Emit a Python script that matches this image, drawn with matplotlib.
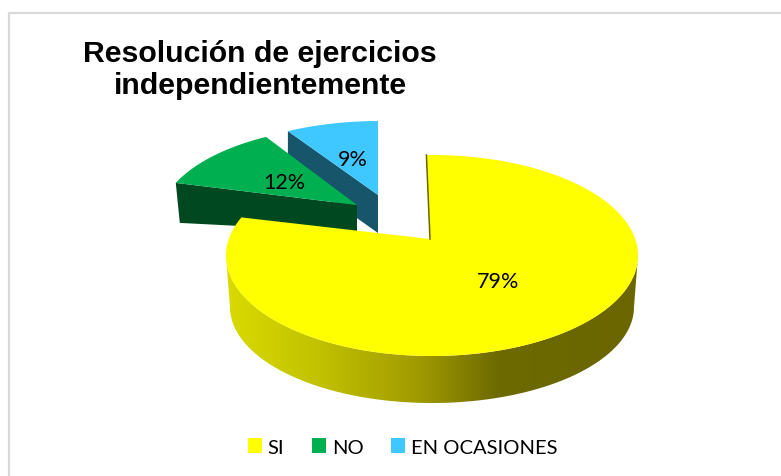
import numpy as np
import matplotlib
matplotlib.use("Agg")
import matplotlib.pyplot as plt
from matplotlib.patches import Patch, Polygon
from matplotlib.colors import LinearSegmentedColormap

# datos
categorias = ["SI", "NO", "EN OCASIONES"]
valores = [79, 12, 9]
titulo = "Resolución de ejercicios\nindependientemente"

colores = ["#FFFF00", "#00B050", "#3FC8FF"]
colores_pared = ["#6B6600", "#004820", "#17556B"]

# geometria de cada sector en pixeles: vertice, centro de elipse, radios, alto
vertices = [(430, 240), (357, 206), (378, 196)]
centros = [(432, 256.5), (359, 222), (380, 212)]
radios = [(206, 100.5), (200, 95), (200, 90)]
altos = [46, 27, 38]
giros = [-1.2, 0, 0]
pos_etiquetas = [(498, 282), (284, 183), (353, 160)]


def borde(i, theta):
    # corta el rayo desde el vertice con la elipse de la cara superior
    vx, vy = vertices[i]
    cx, cy = centros[i]
    rx, ry = radios[i]
    t = np.radians(theta + giros[i])
    dx, dy = rx * np.sin(t), -ry * np.cos(t)
    ox, oy = (vx - cx) / rx, (vy - cy) / ry
    a = (dx / rx) ** 2 + (dy / ry) ** 2
    b = 2 * (ox * dx / rx + oy * dy / ry)
    c = ox**2 + oy**2 - 1
    s = (-b + np.sqrt(b**2 - 4 * a * c)) / (2 * a)
    return vx + s * dx, vy + s * dy


def sector(i, t0, t1):
    th = np.linspace(t0, t1, 200)
    xs, ys = borde(i, th)
    return np.column_stack([np.r_[vertices[i][0], xs], np.r_[vertices[i][1], ys]])


fig = plt.figure(figsize=(7.81, 4.77), dpi=100)
ax = fig.add_axes([0, 0, 1, 1])
ax.set_xlim(0, 781)
ax.set_ylim(477, 0)
ax.axis("off")

# marco gris
ax.plot([8.5, 8.5, 781], [477, 13.5, 13.5], color="#D9D9D9", lw=1.6)

# angulos a partir de los valores, sentido horario desde arriba
fin = np.cumsum(valores) / np.sum(valores) * 360
ini = np.r_[0, fin[:-1]]

# sector azul
cara = sector(2, ini[2], fin[2])
pared = np.array([cara[1], cara[0], cara[0] + [0, altos[2]], cara[1] + [0, altos[2]]])
ax.add_patch(Polygon(pared, fc=colores_pared[2], ec="none", zorder=2))
ax.add_patch(Polygon(cara, fc=colores[2], ec="none", zorder=3))

# sector verde
cara = sector(1, ini[1], fin[1])
pared = np.array([cara[1], cara[0], cara[0] + [0, altos[1]], cara[1] + [4, 40]])
ax.add_patch(Polygon(pared, fc=colores_pared[1], ec="none", zorder=4))
ax.add_patch(Polygon(cara, fc=colores[1], ec="none", zorder=5))

# pared del sector amarillo con degradado
cx, cy = centros[0]
rx, ry = radios[0]
t = np.radians(np.linspace(90, 270, 200))
sup = np.column_stack([cx + rx * np.sin(t), cy - ry * np.cos(t)])
inf = np.column_stack([cx + (rx - 4) * np.sin(t), cy + 51.5 - (ry - 4.5) * np.cos(t)])
contorno = np.vstack([sup, inf[::-1]])
cmap = LinearSegmentedColormap.from_list(
    "pared",
    [(0, "#DADA00"), (0.22, "#C2C200"), (0.47, "#A09A00"), (0.66, "#6D6A00"), (1, "#6B6600")],
)
grad = np.linspace(0, 1, 256).reshape(1, -1)
im = ax.imshow(grad, extent=(cx - rx, cx + rx, 410, 250), cmap=cmap, aspect="auto", zorder=6)
im.set_clip_path(Polygon(contorno, transform=ax.transData))
ax.set_xlim(0, 781)
ax.set_ylim(477, 0)

# cara amarilla
cara = sector(0, ini[0], fin[0])
ax.add_patch(Polygon(cara, fc=colores[0], ec="none", zorder=7))
ax.plot(cara[:2, 0], cara[:2, 1], color=colores_pared[0], lw=1.1, zorder=8)

# etiquetas
for v, (x, y) in zip(valores, pos_etiquetas):
    ax.text(x, y, f"{v}%", ha="center", va="center", fontsize=15.5, family="Lato", color="black", zorder=9)

ax.text(260, 70, titulo, ha="center", va="center", fontsize=21.8, fontweight="bold",
        family="Liberation Sans", linespacing=1.2, color="black", zorder=9)

# leyenda
handles = [Patch(fc=c, ec="none", label=n) for c, n in zip(colores, categorias)]
ley = ax.legend(handles=handles, ncol=3, frameon=False, loc="center", bbox_to_anchor=(402.5, 448),
                bbox_transform=ax.transData, prop={"family": "Lato", "size": 14.5},
                handlelength=0.7, handleheight=0.7, handletextpad=0.3, columnspacing=1.35,
                borderpad=0, borderaxespad=0)

fig.savefig("out.png", dpi=100)
